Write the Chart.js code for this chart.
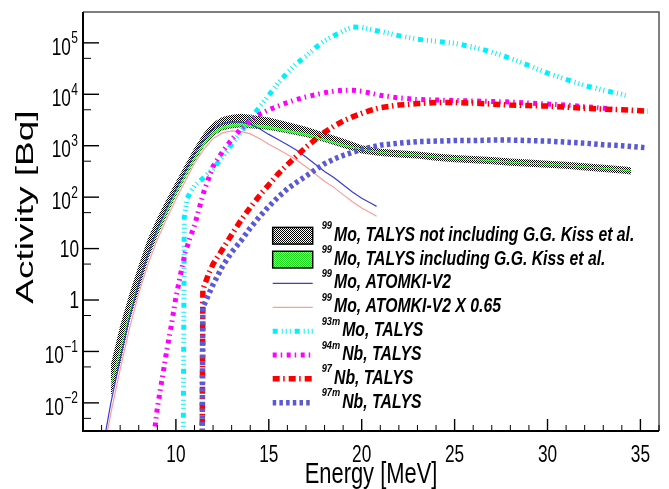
<!DOCTYPE html>
<html>
<head>
<meta charset="utf-8">
<script src="https://cdn.jsdelivr.net/npm/chart.js@4.4.1/dist/chart.umd.min.js"></script>
<style>
  html, body { margin: 0; padding: 0; background: #fff; }
  #wrap { width: 669px; height: 489px; }
</style>
</head>
<body>
<div id="wrap"><canvas id="c" width="669" height="489"></canvas></div>
<script>
// ── DATA (Energy in MeV, Activity in Bq) ────────────
const bandE = [6.5, 7, 7.5, 8, 8.5, 9, 9.5, 10, 10.5, 11, 11.5, 12, 12.5, 13, 13.5, 14, 15, 16, 17, 18, 19, 20, 21, 22, 23, 24, 25, 26, 27, 28, 29, 30, 31, 32, 33, 34, 34.5];
// 99Mo TALYS, not including G.G. Kiss et al. (band edges)
const mo99TalysHi = [0.0562, 0.316, 1.32, 4.79, 15.8, 39.8, 91.2, 200, 427, 912, 1738, 2818, 3631, 3981, 4169, 3981, 3548, 2884, 2344, 1778, 1380, 1023, 871, 813, 776, 708, 661, 631, 603, 562, 537, 513, 490, 457, 427, 398, 380];
const mo99TalysLo = [0.0132, 0.0562, 0.380, 1.51, 6.03, 17.4, 43.7, 105, 234, 501, 955, 1549, 1995, 2188, 2291, 2188, 2042, 1738, 1479, 1175, 912, 708, 631, 589, 562, 513, 479, 457, 437, 407, 389, 372, 355, 331, 309, 288, 275];
// 99Mo TALYS, including G.G. Kiss et al. (band edges)
const mo99KissHi = [0.0240, 0.115, 0.617, 2.40, 8.71, 23.4, 56.2, 129, 282, 603, 1148, 1862, 2399, 2630, 2754, 2630, 2455, 2042, 1738, 1349, 1072, 871, 759, 708, 676, 617, 575, 550, 525, 490, 468, 447, 427, 398, 372, 347, 331];
const mo99KissLo = [0.0200, 0.0955, 0.525, 2.04, 7.41, 20.0, 47.9, 112, 245, 525, 1000, 1622, 2089, 2291, 2399, 2291, 2138, 1820, 1549, 1230, 977, 832, 724, 676, 646, 589, 550, 525, 501, 468, 447, 427, 407, 380, 355, 331, 316];

const atomkiE = [6.2, 6.5, 7, 7.5, 8, 8.5, 9, 9.5, 10, 10.5, 11, 11.5, 12, 12.5, 13, 13.5, 14, 14.5, 15, 15.5, 16, 16.5, 17, 17.5, 18, 18.5, 19, 19.5, 20, 20.5, 20.8];
const mo99Atomki = [0.00251, 0.01, 0.0708, 0.447, 2.14, 7.94, 24.0, 60.3, 141, 316, 708, 1318, 2138, 2692, 2951, 2884, 2630, 2138, 1660, 1318, 1047, 813, 603, 437, 316, 240, 174, 126, 95.5, 75.9, 66.1];
const mo99Atomki065 = [0.00166, 0.00631, 0.0447, 0.282, 1.35, 5.01, 15.1, 38.0, 91.2, 204, 457, 851, 1380, 1778, 1950, 1905, 1698, 1380, 1072, 851, 676, 525, 389, 282, 204, 155, 112, 81.3, 61.7, 49.0, 42.7];

const mo93mE = [10.38, 10.45, 10.6, 11, 11.5, 12, 12.5, 13, 13.5, 14, 14.5, 15, 15.5, 16, 16.5, 17, 17.5, 18, 18.5, 19, 19.5, 20, 21, 22, 23, 24, 25, 26, 27, 28, 29, 30, 31, 32, 33, 34, 34.2];
const mo93m = [0.0001, 39.8, 95.5, 166, 240, 355, 603, 1072, 1862, 3311, 5623, 9550, 16600, 26300, 39800, 55000, 79400, 109600, 138000, 170000, 204000, 200000, 166000, 138000, 117500, 107200, 97700, 83200, 66100, 50100, 36300, 25700, 19500, 14800, 12000, 10000, 9550];

const nb94mE = [8.7, 9, 9.25, 9.5, 9.75, 10, 10.25, 10.5, 10.75, 11, 11.5, 12, 12.5, 13, 13.5, 14, 14.5, 15, 15.5, 16, 16.5, 17, 17.5, 18, 18.5, 19, 19.5, 20, 20.5, 21, 22, 23, 24, 25, 26, 27, 28, 29, 30, 31, 32, 33, 33.5];
const nb94m = [0.001, 0.00794, 0.0282, 0.1, 0.316, 1.12, 3.16, 8.32, 15.8, 28.2, 126, 398, 759, 1318, 2138, 3020, 4074, 5012, 5888, 6918, 7943, 8913, 9772, 10720, 11480, 12020, 12020, 11480, 10470, 9550, 8511, 7943, 7762, 7586, 7413, 7244, 7079, 6761, 6457, 6166, 5754, 5370, 5129];

const nb97E = [11.4, 11.45, 11.75, 12, 12.5, 13, 13.5, 14, 14.5, 15, 15.5, 16, 16.5, 17, 17.5, 18, 18.5, 19, 19.5, 20, 20.5, 21, 22, 23, 24, 25, 26, 27, 28, 29, 30, 31, 32, 33, 34, 35, 35.4];
const nb97 = [0.0001, 1.58, 3.16, 5.01, 9.55, 18.6, 35.5, 63.1, 107, 174, 282, 427, 631, 933, 1318, 1820, 2399, 3020, 3631, 4266, 4898, 5495, 6166, 6607, 6918, 6918, 6761, 6457, 6166, 6026, 5888, 5623, 5370, 5129, 5012, 4786, 4677];

const nb97mE = [11.4, 11.45, 11.75, 12, 12.5, 13, 13.5, 14, 14.5, 15, 15.5, 16, 16.5, 17, 17.5, 18, 18.5, 19, 19.5, 20, 21, 22, 23, 24, 25, 26, 27, 28, 29, 30, 31, 32, 33, 34, 35, 35.3];
const nb97m = [0.0001, 0.708, 1.26, 2.0, 4.47, 8.51, 14.1, 25.1, 41.7, 66.1, 100, 145, 195, 257, 339, 447, 550, 646, 741, 851, 1023, 1122, 1202, 1230, 1259, 1259, 1288, 1288, 1259, 1230, 1175, 1122, 1047, 1000, 933, 912];

// ── AXES / LABELS ───────────────────────────────────
const xRange = [5, 36];
const yRange = [0.00284, 398000];
const xTickLabels = [10, 15, 20, 25, 30, 35];
const yTickLabels = [0.01, 0.1, 1, 10, 100, 1000, 10000, 100000];
const xTitle = 'Energy [MeV]';
const yTitle = 'Activity [Bq]';
const legendSup = ['99', '99', '99', '99', '93m', '94m', '97', '97m'];
const legendText = [
  'Mo, TALYS not including G.G. Kiss et al.',
  'Mo, TALYS including G.G. Kiss et al.',
  'Mo, ATOMKI-V2',
  'Mo, ATOMKI-V2 X 0.65',
  'Mo, TALYS',
  'Nb, TALYS',
  'Nb, TALYS',
  'Nb, TALYS'
];

// ── HELPERS ─────────────────────────────────────────
const FONT = '"Liberation Sans", Arial, Helvetica, sans-serif';
const pts = (xs, ys) => xs.map((x, i) => ({ x, y: ys[i] }));

function pattern(a, b) {
  const p = document.createElement('canvas');
  p.width = 2; p.height = 2;
  const g = p.getContext('2d');
  g.fillStyle = b; g.fillRect(0, 0, 2, 2);
  g.fillStyle = a; g.fillRect(0, 0, 1, 1); g.fillRect(1, 1, 1, 1);
  return g.createPattern(p, 'repeat');
}
const blackHatch = pattern('#000000', '#ffffff');
const greenHatch = pattern('#1ed81e', '#9dff9d');

function txt(ctx, s, x, y, font, align, sx) {
  ctx.save();
  ctx.font = font; ctx.textAlign = align; ctx.textBaseline = 'alphabetic';
  ctx.fillStyle = '#000';
  ctx.translate(x, y); ctx.scale(sx, 1);
  ctx.fillText(s, 0, 0);
  ctx.restore();
}
function txtW(ctx, s, font, sx) {
  ctx.save(); ctx.font = font;
  const w = ctx.measureText(s).width * sx;
  ctx.restore();
  return w;
}

// ── DATASETS ────────────────────────────────────────
const line = (label, xs, ys, color, width, dash, order) => ({
  label, data: pts(xs, ys), borderColor: color, borderWidth: width,
  borderDash: dash, fill: false, pointRadius: 0, tension: 0, order
});
const none = 'rgba(0,0,0,0)';

const datasets = [
  { label: '99Mo, TALYS not including G.G. Kiss et al.', data: pts(bandE, mo99TalysHi), borderColor: none, borderWidth: 0,
    backgroundColor: blackHatch, fill: '+1', pointRadius: 0, tension: 0, order: 9 },
  { label: '', data: pts(bandE, mo99TalysLo), borderColor: none, borderWidth: 0, fill: false, pointRadius: 0, tension: 0, order: 9 },
  { label: '99Mo, TALYS including G.G. Kiss et al.', data: pts(bandE, mo99KissHi), borderColor: none, borderWidth: 0,
    backgroundColor: greenHatch, fill: '+1', pointRadius: 0, tension: 0, order: 8 },
  { label: '', data: pts(bandE, mo99KissLo), borderColor: none, borderWidth: 0, fill: false, pointRadius: 0, tension: 0, order: 8 },
  line('99Mo, ATOMKI-V2', atomkiE, mo99Atomki, '#3c3cd2', 1.2, [], 7),
  line('99Mo, ATOMKI-V2 X 0.65', atomkiE, mo99Atomki065, '#ff9c9c', 1.2, [], 6),
  line('93mMo, TALYS', mo93mE, mo93m, '#00f0ff', 5, [5, 4, 1, 3, 1, 3, 1, 4], 5),
  line('94mNb, TALYS', nb94mE, nb94m, '#ff00ff', 5, [4, 4, 1.5, 4.5], 4),
  line('97Nb, TALYS', nb97E, nb97, '#ff0000', 5.5, [7, 3.5, 1.5, 4], 3),
  line('97mNb, TALYS', nb97mE, nb97m, '#5a5ad8', 5.5, [3.5, 3.2], 2)
];
// legend entry -> dataset index
const legendSets = [0, 2, 4, 5, 6, 7, 8, 9];

// ── ROOT-STYLE FRAME, TICKS, LABELS, LEGEND ─────────
const rootFrame = {
  id: 'rootFrame',
  afterDraw(chart) {
    const { ctx, chartArea: a, scales: { x, y } } = chart;
    ctx.save();

    // top / right frame
    ctx.strokeStyle = '#555'; ctx.lineWidth = 1.5;
    ctx.beginPath();
    ctx.moveTo(a.left, a.top); ctx.lineTo(a.right, a.top); ctx.lineTo(a.right, a.bottom);
    ctx.stroke();

    // ticks
    ctx.strokeStyle = '#000';
    x.ticks.forEach(t => {
      const px = x.getPixelForValue(t.value);
      const major = t.value % 5 === 0;
      ctx.lineWidth = major ? 1.4 : 1;
      ctx.beginPath();
      ctx.moveTo(px, a.bottom); ctx.lineTo(px, a.bottom - (major ? 12 : 6));
      ctx.stroke();
    });
    y.ticks.forEach(t => {
      const v = t.value;
      const e = Math.floor(Math.log10(v) + 1e-9);
      const m = v / Math.pow(10, e);
      if (Math.abs(m - Math.round(m)) > 1e-6) return;
      const py = y.getPixelForValue(v);
      if (py < a.top || py > a.bottom) return;
      const major = Math.round(m) === 1 || Math.round(m) === 10;
      ctx.lineWidth = major ? 1.4 : 1;
      ctx.beginPath();
      ctx.moveTo(a.left, py); ctx.lineTo(a.left + (major ? 16 : 8), py);
      ctx.stroke();
    });

    // left / bottom axis
    ctx.lineWidth = 2;
    ctx.beginPath();
    ctx.moveTo(a.left, a.top); ctx.lineTo(a.left, a.bottom); ctx.lineTo(a.right, a.bottom);
    ctx.stroke();

    // x labels
    const tickFont = '23px ' + FONT, supFont = '16px ' + FONT;
    xTickLabels.forEach(v => {
      txt(ctx, String(v), x.getPixelForValue(v), a.bottom + 31, tickFont, 'center', 0.75);
    });
    // y labels
    const rx = a.left - 5;
    yTickLabels.forEach(v => {
      const py = y.getPixelForValue(v);
      const e = Math.round(Math.log10(v));
      if (e === 0 || e === 1) {
        txt(ctx, String(v), rx + 1, py + 8.3, tickFont, 'right', 0.75);
      } else {
        const sup = e < 0 ? '\u2212' + (-e) : String(e);
        const w = txtW(ctx, sup, supFont, 0.75);
        txt(ctx, sup, rx, py + 0.5, supFont, 'right', 0.75);
        txt(ctx, '10', rx - w - 0.5, py + 11.7, tickFont, 'right', 0.75);
      }
    });

    // axis titles
    txt(ctx, xTitle, (a.left + a.right) / 2, 483, '30px ' + FONT, 'center', 0.73);
    ctx.save();
    ctx.translate(33.3, 207);
    ctx.rotate(-Math.PI / 2);
    ctx.scale(1, 0.63);
    ctx.font = '37px ' + FONT; ctx.textAlign = 'center'; ctx.fillStyle = '#000';
    ctx.fillText(yTitle, 0, 0);
    ctx.restore();

    // legend
    const lx0 = 272.7, lx1 = 312.7, tx = 321.7;
    const lFont = 'italic bold 19.5px ' + FONT, sFont = 'italic bold 10.5px ' + FONT;
    legendSets.forEach((di, i) => {
      const cy = 235.7 + 23.86 * i;
      const ds = chart.data.datasets[di];
      if (ds.fill === '+1') {
        ctx.fillStyle = ds.backgroundColor;
        ctx.fillRect(lx0, cy - 8.3, lx1 - lx0, 16.7);
        ctx.strokeStyle = '#000'; ctx.lineWidth = 1.5; ctx.setLineDash([]);
        ctx.strokeRect(lx0, cy - 8.3, lx1 - lx0, 16.7);
      } else {
        ctx.strokeStyle = ds.borderColor; ctx.lineWidth = ds.borderWidth;
        ctx.setLineDash(ds.borderDash || []); ctx.lineCap = 'butt';
        ctx.beginPath(); ctx.moveTo(lx0, cy); ctx.lineTo(lx1, cy); ctx.stroke();
        ctx.setLineDash([]);
      }
      const sw = txtW(ctx, legendSup[i], sFont, 0.88);
      txt(ctx, legendSup[i], tx, cy - 6.4, sFont, 'left', 0.88);
      txt(ctx, legendText[i], tx + sw + 2, cy + 5, lFont, 'left', 0.81);
    });

    ctx.restore();
  }
};

new Chart(document.getElementById('c'), {
  type: 'line',
  data: { datasets },
  options: {
    responsive: false,
    animation: false,
    devicePixelRatio: 1,
    events: [],
    layout: { padding: { left: 83, top: 12, right: 10, bottom: 58 } },
    plugins: { legend: { display: false }, tooltip: { enabled: false } },
    scales: {
      x: { type: 'linear', display: false, min: xRange[0], max: xRange[1], ticks: { stepSize: 1 } },
      y: { type: 'logarithmic', display: false, min: yRange[0], max: yRange[1] }
    }
  },
  plugins: [rootFrame]
});
</script>
</body>
</html>
